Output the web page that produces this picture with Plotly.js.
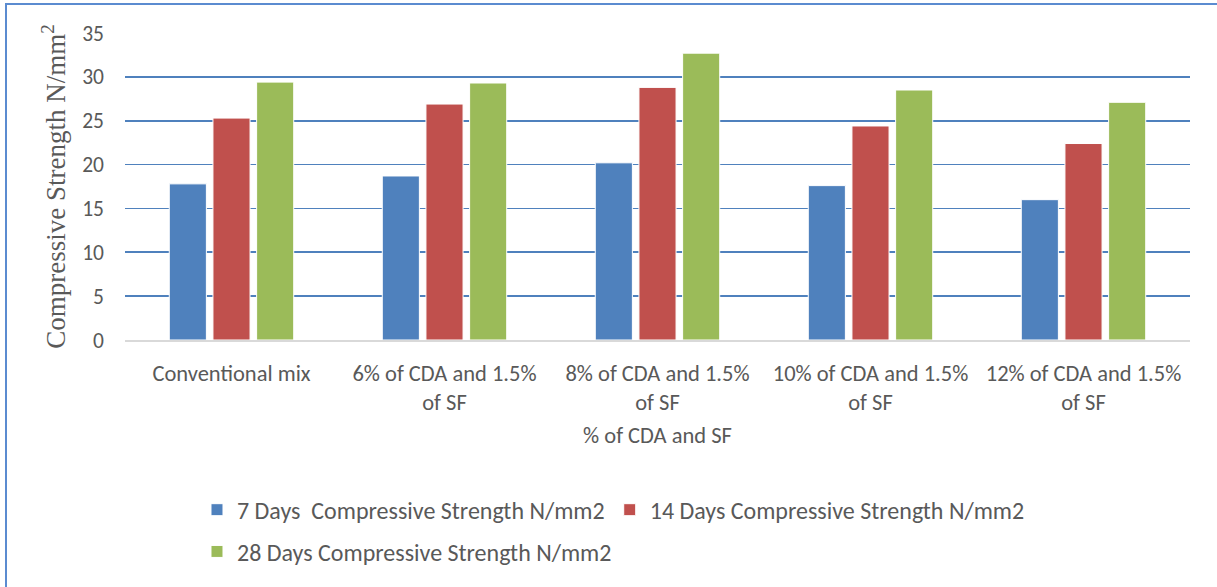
<!DOCTYPE html>
<html>
<head>
<meta charset="utf-8">
<script src="https://cdn.plot.ly/plotly-3.0.1.min.js"></script>
<style>
html,body{margin:0;padding:0;background:#fff;}
#frame{position:absolute;left:0;top:0;width:1217px;height:587px;}
#border{position:absolute;left:5px;top:3px;width:1212px;height:584px;border-top:2px solid #5b8bd0;border-left:2px solid #5b8bd0;pointer-events:none;}
#chart{position:absolute;left:0;top:0;width:1217px;height:587px;}
</style>
</head>
<body>
<div id="frame">
<div id="chart"></div>
<div id="border"></div>
</div>
<script>
const categories = ["Conventional mix", "6% of CDA and 1.5%<br>of SF", "8% of CDA and 1.5%<br>of SF", "10% of CDA and 1.5%<br>of SF", "12% of CDA and 1.5%<br>of SF"];
const days7 = [17.8, 18.7, 20.2, 17.6, 16.0];
const days14 = [25.3, 26.9, 28.8, 24.4, 22.4];
const days28 = [29.4, 29.3, 32.7, 28.5, 27.1];
const seriesNames = ["7 Days  Compressive Strength N/mm2", "14 Days Compressive Strength N/mm2", "28 Days Compressive Strength N/mm2"];
const yTicks = [0, 5, 10, 15, 20, 25, 30, 35];

const FONT = "Carlito, 'Liberation Sans Narrow', 'DejaVu Sans Condensed', 'Liberation Sans', sans-serif";
const TXT = "#595959";

const traces = [
  {type:"bar", name:seriesNames[0], x:categories, y:days7, marker:{color:"#4f81bd", line:{color:"#ffffff", width:1}}, legend:"legend"},
  {type:"bar", name:seriesNames[1], x:categories, y:days14, marker:{color:"#c0504d", line:{color:"#ffffff", width:1}}, legend:"legend"},
  {type:"bar", name:seriesNames[2], x:categories, y:days28, marker:{color:"#9bbb59", line:{color:"#ffffff", width:1}}, legend:"legend2"}
];

const layout = {
  width:1217, height:587,
  margin:{l:125, r:27, t:33, b:247},
  paper_bgcolor:"#ffffff", plot_bgcolor:"#ffffff",
  font:{family:FONT, size:22.5, color:TXT},
  barmode:"group", bargap:0.385, bargroupgap:0.15,
  showlegend:true,
  xaxis:{
    type:"category", showgrid:false, zeroline:false, showline:true, linecolor:"#d9d9d9", linewidth:2,
    ticks:"", tickfont:{family:FONT, size:22.5, color:TXT}, ticklabelstandoff:12,
    title:{text:"% of CDA and SF", font:{family:FONT, size:22.5, color:TXT}, standoff:12}
  },
  yaxis:{
    range:[0,35], tickvals:yTicks, ticktext:yTicks.map(String), showgrid:true, gridcolor:"#4f81bd", gridwidth:1.75,
    zeroline:false, showline:false, ticks:"", ticklabelstandoff:20,
    tickfont:{family:FONT, size:21.5, color:TXT},
    title:{text:"Compressive Strength N/mm<sup>2</sup>", font:{family:"'Liberation Serif', 'Times New Roman', serif", size:27, color:TXT}, standoff:8}
  },
  legend:{orientation:"h", x:0.0676, xanchor:"left", y:-0.554, yanchor:"middle", font:{family:FONT, size:24, color:TXT}, bgcolor:"rgba(0,0,0,0)", itemwidth:30},
  legend2:{orientation:"h", x:0.0676, xanchor:"left", y:-0.69, yanchor:"middle", font:{family:FONT, size:24, color:TXT}, bgcolor:"rgba(0,0,0,0)", itemwidth:30}
};

Plotly.newPlot("chart", traces, layout, {displayModeBar:false, staticPlot:true});
</script>
</body>
</html>
